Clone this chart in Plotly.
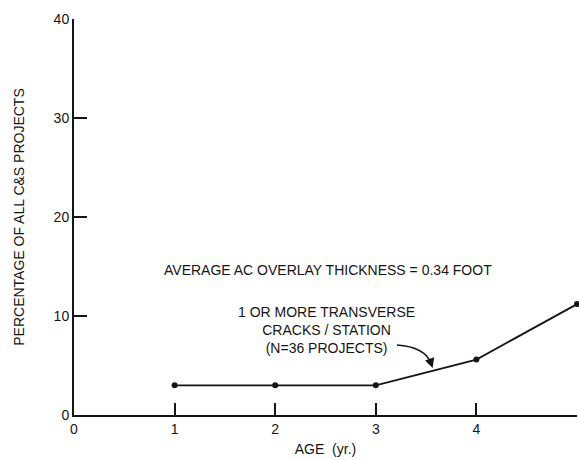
import plotly.graph_objects as go

age = [1, 2, 3, 4, 5]
pct = [3.0, 3.0, 3.0, 5.6, 11.2]
x_ticks = [0, 1, 2, 3, 4, 5]
y_ticks = [0, 10, 20, 30, 40]

ink = "#151515"
font = "Liberation Sans, Arial, sans-serif"

fig = go.Figure()
fig.add_trace(go.Scatter(
    x=age, y=pct, mode="lines+markers",
    line=dict(color=ink, width=1.8),
    marker=dict(color=ink, size=6),
    showlegend=False, cliponaxis=False,
))

fig.update_layout(
    width=579, height=460,
    margin=dict(l=74, r=2, t=19, b=45),
    paper_bgcolor="white", plot_bgcolor="white",
    font=dict(family=font, color=ink, size=14),
    xaxis=dict(
        range=[0, 5], tickvals=x_ticks, ticktext=[str(v) for v in x_ticks],
        ticks="inside", ticklen=12, tickwidth=2, tickcolor=ink,
        showline=True, linecolor=ink, linewidth=2, showgrid=False, zeroline=False,
        title=dict(text="AGE  (yr.)", font=dict(size=14), standoff=8),
        tickfont=dict(size=14),
    ),
    yaxis=dict(
        range=[0, 40], tickvals=y_ticks, ticktext=[str(v) for v in y_ticks],
        ticks="inside", ticklen=13, tickwidth=2, tickcolor=ink,
        showline=True, linecolor=ink, linewidth=2, showgrid=False, zeroline=False,
        title=dict(text="PERCENTAGE OF ALL C&S PROJECTS", font=dict(size=14), standoff=26),
        tickfont=dict(size=14),
    ),
)

fig.add_annotation(
    x=2.52, y=14.65, xref="x", yref="y", showarrow=False,
    text="AVERAGE AC OVERLAY THICKNESS = 0.34 FOOT", font=dict(size=14),
)
fig.add_annotation(
    x=2.51, y=8.6, xref="x", yref="y", showarrow=False,
    text="1 OR MORE TRANSVERSE<br>CRACKS / STATION<br>(N=36 PROJECTS)", font=dict(size=14),
    align="center",
)
# curved leader
fig.add_shape(
    type="path", xref="x", yref="y",
    path="M 3.21 7.07 Q 3.49 6.87 3.55 5.2",
    line=dict(color=ink, width=1.6),
)
fig.add_annotation(
    x=3.565, y=4.75, xref="x", yref="y", text="", showarrow=True,
    ax=-3, ay=-9, arrowhead=2, arrowsize=1.2, arrowwidth=1.6, arrowcolor=ink,
)

fig.write_html("out.html")
